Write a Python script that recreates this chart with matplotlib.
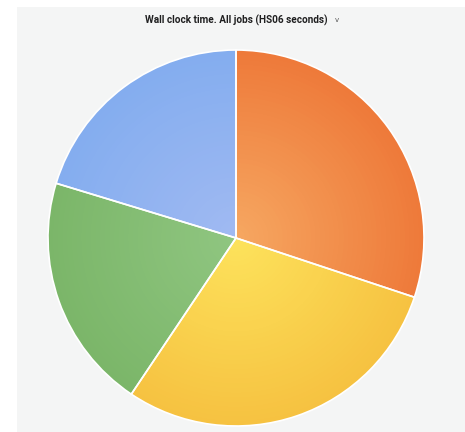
import numpy as np
import matplotlib.pyplot as plt
from matplotlib.colors import to_rgb
from matplotlib.patches import Rectangle

# Данные (доли секторов, по часовой стрелке от 12 часов)
categories = ['Series 1', 'Series 2', 'Series 3', 'Series 4']
values = [30.1, 29.3, 20.3, 20.3]

# Цвета: край и центр радиального градиента
edge_colors = ['#ee7a3a', '#f6c241', '#7bb669', '#84adef']
center_colors = ['#f6a862', '#fde35c', '#90c681', '#a1baf2']

fig = plt.figure(figsize=(4.65, 4.32), dpi=100)
fig.patch.set_facecolor('white')

# Фон панели
fig.add_artist(Rectangle((17 / 465, 0), 1 - 17 / 465, 1 - 7 / 432,
                         transform=fig.transFigure, facecolor='#f4f5f5',
                         edgecolor='none', zorder=0))

fig.text(236 / 465, 1 - 20 / 432, 'Wall clock time. All jobs (HS06 seconds)',
         ha='center', va='center', fontsize=7.2, fontweight='semibold',
         family=['Roboto', 'DejaVu Sans'], color='#1f1f20')
fig.text(337 / 465, 1 - 20 / 432, 'v', ha='center', va='center',
         fontsize=5, color='#555555', family=['DejaVu Sans'])

ax = fig.add_axes([48 / 465, 6 / 432, 376 / 465, 376 / 432])
ax.set_facecolor('none')

# Радиальный градиент: набор вложенных пирогов
n_layers = 40
ec = np.array([to_rgb(c) for c in edge_colors])
cc = np.array([to_rgb(c) for c in center_colors])
for i in range(n_layers):
    t = i / n_layers
    r = 1 - t
    cols = ec * (1 - t) + cc * t
    ax.pie(values, radius=r, startangle=90, counterclock=False,
           colors=[tuple(c) for c in cols],
           wedgeprops=dict(linewidth=0, antialiased=True))

# Белые границы секторов
ax.pie(values, radius=1, startangle=90, counterclock=False,
       colors=['none'] * len(values),
       wedgeprops=dict(linewidth=1.2, edgecolor='white', fill=False))

ax.set_xlim(-1, 1)
ax.set_ylim(-1, 1)
ax.set_aspect('auto')
ax.axis('off')

plt.savefig('out.png', dpi=100)
